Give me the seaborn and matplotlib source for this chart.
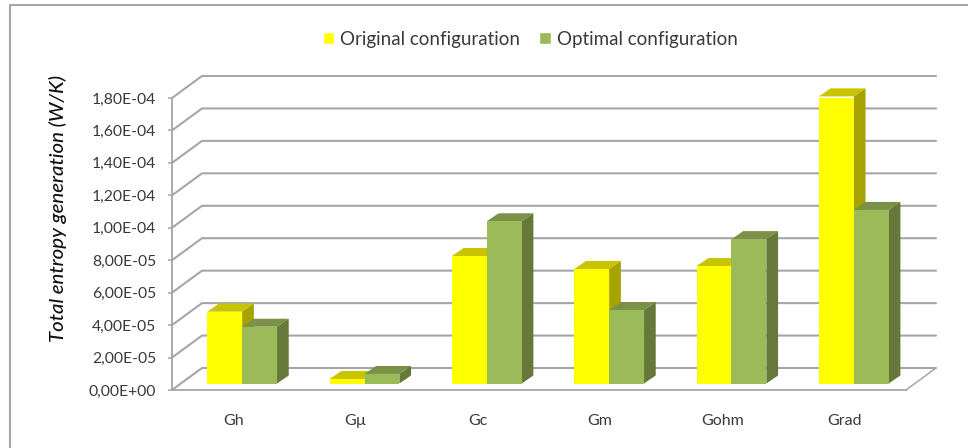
import pandas as pd
import seaborn as sns
import matplotlib
matplotlib.use('Agg')
import matplotlib.pyplot as plt
from matplotlib.lines import Line2D
from matplotlib.patches import Polygon

# values
terms = ['Gh', 'Gµ', 'Gc', 'Gm', 'Gohm', 'Grad']
original = [4.43e-5, 2.8e-6, 7.86e-5, 7.06e-5, 7.24e-5, 1.77e-4]
optimal = [3.5e-5, 5.9e-6, 1.0e-4, 4.53e-5, 8.9e-5, 1.07e-4]
series_names = ['Original configuration', 'Optimal configuration']
y_ticks = [0, 2e-5, 4e-5, 6e-5, 8e-5, 1e-4, 1.2e-4, 1.4e-4, 1.6e-4, 1.8e-4]
y_labels = ['0,00E+00', '2,00E-05', '4,00E-05', '6,00E-05', '8,00E-05',
            '1,00E-04', '1,20E-04', '1,40E-04', '1,60E-04', '1,80E-04']

sns.set_style('white')
plt.rcParams['font.family'] = ['Lato', 'DejaVu Sans']
text_col = '#3a3a3a'
grid_col = '#a6a6a6'

df = pd.DataFrame({
    'term': terms * 2,
    'value': original + optimal,
    'config': [series_names[0]] * 6 + [series_names[1]] * 6,
})

fig = plt.figure(figsize=(9.68, 4.48), dpi=100)
ax = fig.add_axes([172 / 968, (448 - 390) / 448, 734 / 968, 292 / 448])
sns.barplot(data=df, x='term', y='value', hue='config', order=terms,
            palette=['#ffff00', '#9bbb59'], width=0.57, gap=0, saturation=1, ax=ax)
ax.set_xlim(-0.5, 5.5)
ax.set_ylim(0, 1.8e-4)

# one screen pixel in data units, the fake 3D depth is set in pixels
px_x = 6 / 734
px_y = 1.8e-4 / 292

# back wall and floor
wall_x = 30 * px_x
wall_y = 22 * px_y
for v in y_ticks:
    ax.plot([-0.5, -0.5 + wall_x, 5.5 + wall_x], [v, v + wall_y, v + wall_y],
            color=grid_col, lw=1.5, zorder=1, clip_on=False)
ax.plot([5.5, 5.5 + wall_x], [0, wall_y], color=grid_col, lw=1.1, zorder=1, clip_on=False)

# move bars onto the floor and add top and side faces
bar_dx = 9 * px_x
bar_base = 6.5 * px_y
depth_x = 11.7 * px_x
depth_y = 8 * px_y
shades = [('#c8c400', '#a6a300'), ('#7a9147', '#66793a')]
for i, cont in enumerate(ax.containers):
    top_col, side_col = shades[i]
    for p in cont:
        p.set_x(p.get_x() + bar_dx)
        p.set_y(bar_base)
        p.set_zorder(4)
        p.set_linewidth(0)
        x0 = p.get_x()
        x1 = x0 + p.get_width()
        y1 = bar_base + p.get_height()
        top = [(x0, y1), (x1, y1), (x1 + depth_x, y1 + depth_y), (x0 + depth_x, y1 + depth_y)]
        side = [(x1, bar_base), (x1 + depth_x, bar_base + depth_y),
                (x1 + depth_x, y1 + depth_y), (x1, y1)]
        ax.add_patch(Polygon(top, closed=True, fc=top_col, ec='none', zorder=3 + i * 0.5, clip_on=False))
        ax.add_patch(Polygon(side, closed=True, fc=side_col, ec='none', zorder=3 + i * 0.5, clip_on=False))

# axes
for s in ['top', 'right']:
    ax.spines[s].set_visible(False)
for s in ['left', 'bottom']:
    ax.spines[s].set_color(grid_col)
    ax.spines[s].set_linewidth(1.3)
ax.set_yticks(y_ticks, y_labels)
ax.tick_params(axis='y', length=3, width=1.1, color=grid_col, labelsize=11.3, labelcolor=text_col, pad=8.5, left=True)
ax.tick_params(axis='x', length=0, labelsize=11.5, labelcolor=text_col, pad=17)
ax.set_xlabel('')
ax.set_ylabel('')
fig.text(58 / 968, 1 - 208 / 448, 'Total entropy generation (W/K)', rotation=90, style='italic',
         fontsize=14.7, fontweight='medium', color='#111111', ha='center', va='center')

# legend
handles, labels = ax.get_legend_handles_labels()
ax.legend(handles, labels, loc='center', bbox_to_anchor=(530 / 968, 1 - 39.5 / 448),
          bbox_transform=fig.transFigure, ncol=2, frameon=False, fontsize=13.5,
          labelcolor=text_col, handlelength=0.62, handleheight=0.62, handletextpad=0.32, columnspacing=1.0)

# outer chart frame
fig.add_artist(Line2D([10 / 968, 10 / 968, 1], [0, 1 - 5 / 448, 1 - 5 / 448], color='#a6a6a6', lw=1.5))

fig.savefig('out.png', dpi=100)
